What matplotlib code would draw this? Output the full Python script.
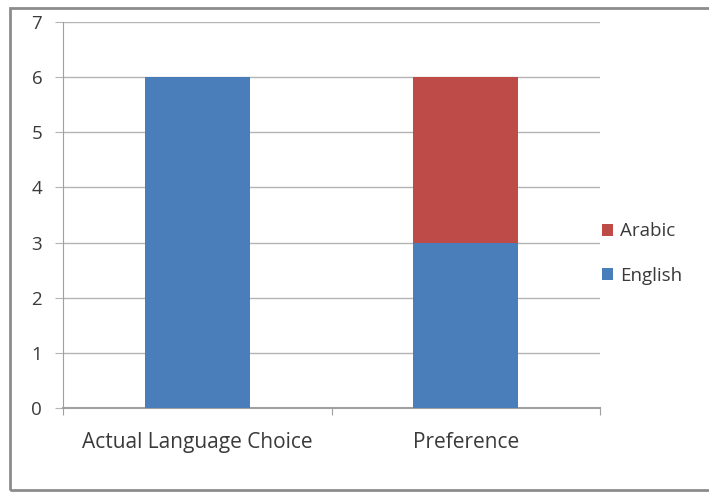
import matplotlib.pyplot as plt
from matplotlib.patches import Rectangle

categories = ['Actual Language Choice', 'Preference']
english = [6, 3]
arabic = [0, 3]
y_ticks = [0, 1, 2, 3, 4, 5, 6, 7]

blue = '#4a7ebb'
red = '#be4b48'
grey = '#a0a0a0'
text_col = '#3a3a3a'
font = 'Open Sans'

fig = plt.figure(figsize=(7.09, 4.95), dpi=100)
fig.patch.set_facecolor('white')

# outer chart border
fig.patches.append(Rectangle((10 / 709, 5 / 495), 720 / 709, 482 / 495,
                             transform=fig.transFigure, fill=False,
                             edgecolor='#8c8c8c', linewidth=2.0))

ax = fig.add_axes([63 / 709, 1 - 408 / 495, (600 - 63) / 709, (408 - 22) / 495])

x = range(len(categories))
ax.bar(x, english, width=0.39, color=blue, label='English', zorder=3)
ax.bar(x, arabic, width=0.39, bottom=english, color=red, label='Arabic', zorder=3)

ax.set_xlim(-0.5, 1.5)
ax.set_ylim(0, 7)
ax.set_yticks(y_ticks)
ax.yaxis.grid(True, color='#b4b4b4', linewidth=1.0, zorder=0)

ax.set_xticks([-0.5, 0.5, 1.5])
ax.set_xticklabels([])
ax.set_xticks(list(x), minor=True)
ax.set_xticklabels(categories, minor=True, fontsize=15, color=text_col,
                   fontfamily=font)
ax.tick_params(axis='x', which='minor', length=0, pad=17)
ax.tick_params(axis='x', which='major', length=5, color=grey, direction='out')
ax.tick_params(axis='y', length=6, color='#b4b4b4', labelsize=13.5,
               labelcolor=text_col, pad=9)
for lab in ax.get_yticklabels():
    lab.set_fontfamily(font)

for side in ['top', 'right']:
    ax.spines[side].set_visible(False)
ax.spines['left'].set_color(grey)
ax.spines['bottom'].set_color(grey)
ax.spines['bottom'].set_linewidth(1.5)

handles, labels = ax.get_legend_handles_labels()
leg = ax.legend(handles[::-1], labels[::-1], loc='center left',
                bbox_to_anchor=(1.004, 0.40), frameon=False,
                handlelength=0.6, handleheight=0.6, handletextpad=0.35,
                labelspacing=1.4, borderpad=0, borderaxespad=0,
                prop={'family': font, 'size': 13.5})
for t in leg.get_texts():
    t.set_color(text_col)

fig.savefig('out.png', dpi=100)
